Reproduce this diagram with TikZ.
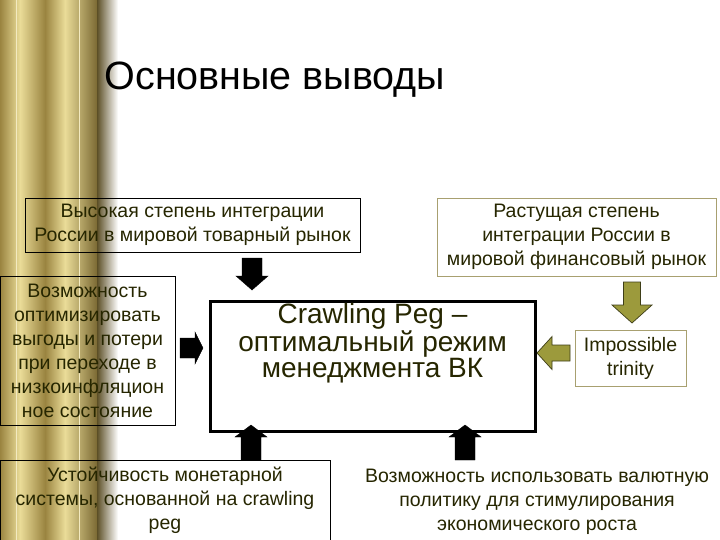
\documentclass[tikz,border=0pt]{standalone}
\usepackage{fontspec}
\setmainfont{Liberation Sans}
\usetikzlibrary{calc}
\definecolor{txt}{HTML}{262600}
\definecolor{olv}{HTML}{9C9A3C}
\definecolor{olvb}{HTML}{A8A070}
\definecolor{gl}{HTML}{EADC98}
\definecolor{gd}{HTML}{9A8440}
\begin{document}
\begin{tikzpicture}[x=1pt,y=-1pt,
  box/.style={draw=black,line width=0.8pt,inner sep=0,text=txt,align=center,font=\fontsize{19.5}{24}\selectfont},
  obox/.style={box,draw=olvb},
  pics/barr/.style n args={4}{code={
    \path[pic actions] (0,-#3) -- ({#1-#2},-#3) -- ({#1-#2},-#4) -- (#1,0) -- ({#1-#2},#4) -- ({#1-#2},#3) -- (0,#3) -- cycle;}},
  blk/.style={fill=black,draw=black},
  olvarr/.style={fill=olv,draw=black!60!olv,line width=0.7pt}]
\useasboundingbox (0,0) rectangle (720,540);
\fill[white] (0,0) rectangle (720,540);
% golden columns
\shade[left color=gd,right color=gl] (0,0) rectangle (20,540);
\shade[left color=gl,right color=gd] (20,0) rectangle (45,540);
\shade[left color=gd,right color=gl] (45,0) rectangle (65,540);
\shade[left color=gl,right color=gd!80!black] (65,0) rectangle (97,540);
\shade[left color=gd!60!black,right color=white] (97,0) rectangle (118,540);
\draw[gl!60!white,line width=0.5pt] (16,0)--(16,540) (79,0)--(79,540);
\node[anchor=west,font=\fontsize{39.5}{44}\selectfont] (title) at (101,80) {Основные выводы};
\node[box,minimum width=335,minimum height=54] (tl) at (192.5,225) {Высокая степень интеграции\\России в мировой товарный рынок};
\node[obox,minimum width=279,minimum height=78] (tr) at (576.5,237) {Растущая степень\\интеграции России в\\мировой финансовый рынок};
\node[box,minimum width=175,minimum height=149] (lf) at (87.5,350.5) {Возможность\\оптимизировать\\выгоды и потери\\при переходе в\\низкоинфляцион\\ное состояние};
\node[box,line width=3pt,minimum width=325,minimum height=130,anchor=north] (c) at (372.5,300) {};
\node[text=txt,align=center,font=\fontsize{28}{26}\selectfont,anchor=north] (ct) at (372.5,300) {Crawling Peg –\\оптимальный режим\\менеджмента ВК};
\node[obox,minimum width=111,minimum height=56] (it) at (630.5,358) {Impossible\\trinity};
\node[box,minimum width=330,minimum height=80] (bl) at (165,500) {Устойчивость монетарной\\системы, основанной на crawling\\peg};
\node[box,draw=none,minimum width=360,minimum height=80] (br) at (537,502) {Возможность использовать валютную\\политику для стимулирования\\экономического роста};
% arrows
\coordinate (a1) at (252,258);
\coordinate (a2) at (180,348);
\coordinate (a3) at (251,460);
\coordinate (a4) at (465,460);
\coordinate (a5) at (632,282);
\coordinate (a6) at (570,353);
\pic[blk,rotate=-90] at (a1) {barr={32}{14}{10}{16}};
\pic[blk] at (a2) {barr={23}{8}{10}{16}};
\pic[blk,rotate=90] at (a3) {barr={35}{12}{10}{16}};
\pic[blk,rotate=90] at (a4) {barr={35}{12}{10}{16}};
\pic[olvarr,rotate=-90] at (a5) {barr={41}{18}{8.5}{20}};
\pic[olvarr,rotate=180] at (a6) {barr={33}{15}{8}{16.5}};
\end{tikzpicture}
\end{document}
